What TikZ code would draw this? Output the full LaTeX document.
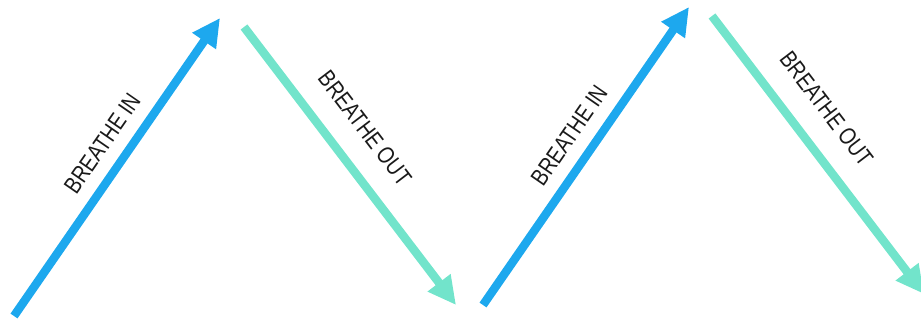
\documentclass[tikz,border=0pt]{standalone}
\usepackage{fontspec}
\usepackage{graphicx}
\setmainfont{Liberation Sans}
\usetikzlibrary{arrows.meta}
\definecolor{inblue}{HTML}{1DA8EE}
\definecolor{outteal}{HTML}{72E4CB}
\definecolor{inktext}{HTML}{1A1A1A}
\newcommand{\tallword}[1]{\scalebox{0.97}[1.2]{#1}}
\begin{document}
\begin{tikzpicture}[x=1pt,y=1pt,
  flow/.style={line width=8.5pt, -{Triangle[length=28pt,width=27pt]}},
  inarrow/.style={flow, draw=inblue},
  outarrow/.style={flow, draw=outteal},
  lbl/.style={sloped, inner sep=0pt, font=\fontsize{20}{20}\selectfont, text=inktext}]
\useasboundingbox (0,0) rectangle (921,324);
% end points
\coordinate (s1) at (14,8);   \coordinate (e1) at (220,306);
\coordinate (s2) at (244,297); \coordinate (e2) at (456,19);
\coordinate (s3) at (483,19);  \coordinate (e3) at (689,317);
\coordinate (s4) at (712,308); \coordinate (e4) at (924,30);
% arrows with labels
\draw[inarrow] (s1) -- node[lbl, pos=0.53, above=13pt] (in1) {\tallword{BREATHE IN}} (e1);
\draw[outarrow] (s2) -- node[lbl, pos=0.44, above=22pt] (out1) {\tallword{BREATHE OUT}} (e2);
\draw[inarrow] (s3) -- node[lbl, pos=0.52, above=13pt] (in2) {\tallword{BREATHE IN}} (e3);
\draw[outarrow] (s4) -- node[lbl, pos=0.41, above=22pt] (out2) {\tallword{BREATHE OUT}} (e4);
\end{tikzpicture}
\end{document}
